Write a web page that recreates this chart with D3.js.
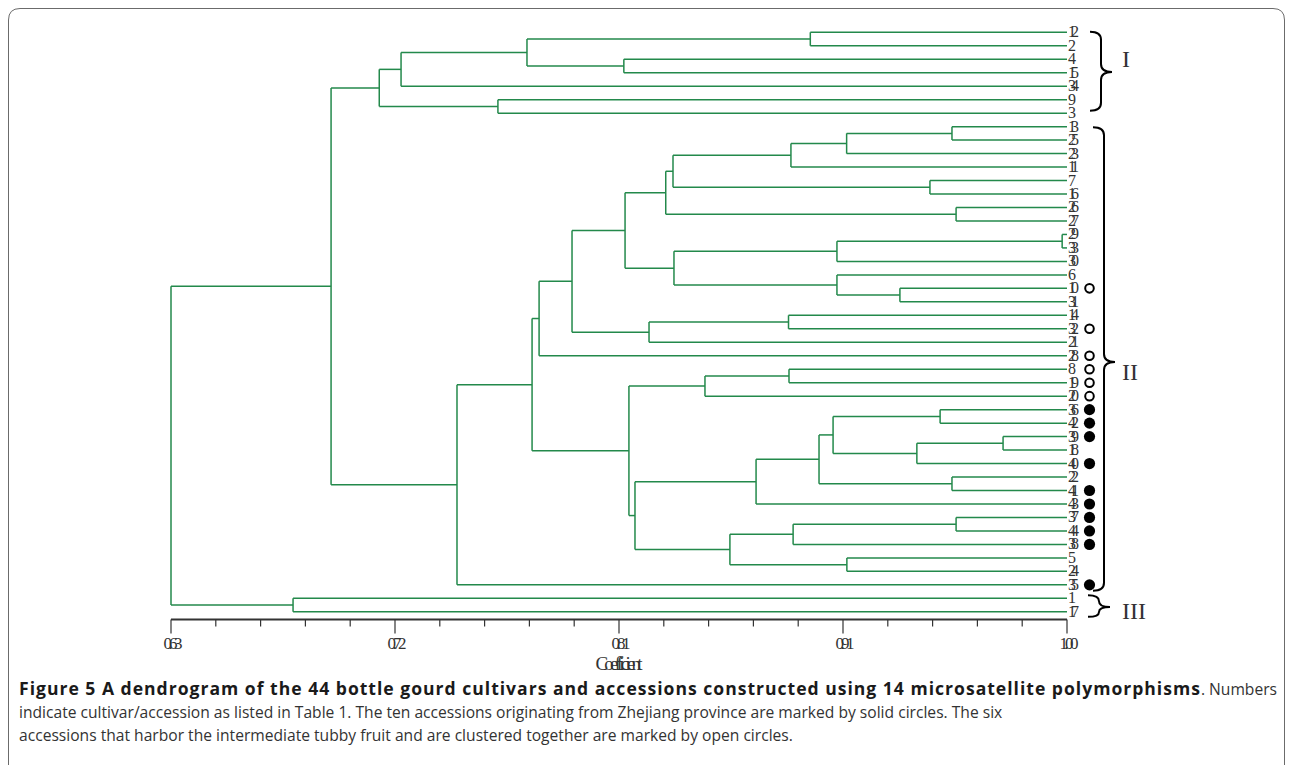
<!DOCTYPE html>
<html><head><meta charset="utf-8">
<script src="https://cdn.jsdelivr.net/npm/d3@7/dist/d3.min.js"></script>
<style>
html,body{margin:0;padding:0;background:#fff;}
svg{display:block;}
</style></head>
<body>
<svg id="chart" width="1293" height="765"></svg>
<script>
// ---- data ----
const leaves = ["12","2","4","15","34","9","3","13","25","23","11","7","16","26","27","29","33","30","6","10","31","14","32","21","28","8","19","20","36","42","39","18","40","22","41","43","37","44","38","5","24","35","1","17"];
// merges: [childA, childB, coefficient]; "nK" refers to merge K
const merges = [
  ["12","2",0.894], ["4","15",0.817], ["n0","n1",0.777], ["n2","34",0.725], ["9","3",0.765],
  ["n3","n4",0.716], ["13","25",0.9525], ["n6","23",0.909], ["n7","11",0.886], ["7","16",0.9434],
  ["n8","n9",0.8373], ["26","27",0.9542], ["n10","n11",0.8343], ["29","33",0.998], ["n13","30",0.905],
  ["10","31",0.931], ["6","n15",0.905], ["n14","n16",0.8377], ["n12","n17",0.8175], ["14","32",0.885],
  ["n19","21",0.8274], ["n18","n20",0.7956], ["n21","28",0.782], ["8","19",0.8852], ["n23","20",0.8505],
  ["36","42",0.9476], ["39","18",0.9736], ["n26","40",0.938], ["n25","n27",0.9034], ["22","41",0.9525],
  ["n28","n29",0.8976], ["n30","43",0.8716], ["37","44",0.9542], ["n32","38",0.8869], ["5","24",0.9091],
  ["n33","n34",0.8608], ["n31","n35",0.8216], ["n24","n36",0.8191], ["n22","n37",0.7791], ["n38","35",0.7481],
  ["n5","n39",0.6961], ["1","17",0.6804], ["n40","n41",0.63]
];
const openMarked = ["10","32","28","8","19","20"];
const solidMarked = ["36","42","39","40","41","43","37","44","38","35"];
const tickValues = [0.63, 0.7225, 0.815, 0.9075, 1.00];
const tickLabels = ["0.63","0.72","0.81","0.91","1.00"];
const clusters = [
  {name:"I", first:"12", last:"3"},
  {name:"II", first:"13", last:"35"},
  {name:"III", first:"1", last:"17"}
];
const axisTitle = "Coefficient";
const captionBold = "Figure 5 A dendrogram of the 44 bottle gourd cultivars and accessions constructed using 14 microsatellite polymorphisms";
const captionLines = [
  ". Numbers",
  "indicate cultivar/accession as listed in Table 1. The ten accessions originating from Zhejiang province are marked by solid circles. The six",
  "accessions that harbor the intermediate tubby fruit and are clustered together are marked by open circles."
];

// ---- drawing ----
const svg = d3.select("#chart");
const green = "#23894b";

// frame
svg.append("path")
  .attr("d", "M8.5,780 L8.5,20 Q8.5,8.5 20,8.5 L1273,8.5 Q1284.5,8.5 1284.5,20 L1284.5,780")
  .attr("fill","none").attr("stroke","#6b6b6b").attr("stroke-width",1);

const x = d3.scaleLinear().domain([0.63, 1.00]).range([171, 1067]);
const y = d3.scalePoint().domain(leaves).range([32.3, 611.8]);

// compute node positions
const nodes = {};
leaves.forEach(l => nodes[l] = {y: y(l), h: 1.00});
merges.forEach((m, i) => {
  const a = nodes[m[0]], b = nodes[m[1]];
  nodes["n"+i] = {y: (a.y + b.y)/2, h: m[2], a, b};
});

const g = svg.append("g");
merges.forEach((m, i) => {
  const n = nodes["n"+i];
  const xh = x(n.h);
  [n.a, n.b].forEach(c => {
    g.append("line").attr("x1", xh).attr("x2", x(c.h)).attr("y1", c.y).attr("y2", c.y)
      .attr("stroke", green).attr("stroke-width", 1.5);
  });
  g.append("line").attr("x1", xh).attr("x2", xh).attr("y1", n.a.y).attr("y2", n.b.y)
    .attr("stroke", green).attr("stroke-width", 1.5);
});

// leaf labels
const serif = "'Liberation Serif','DejaVu Serif',serif";
svg.append("g").selectAll("text").data(leaves).join("text")
  .attr("x", 1068).attr("y", d => y(d) + 5)
  .attr("font-family", serif).attr("font-size", 16).attr("fill", "#333")
  .attr("textLength", d => d.length > 1 ? 11 : null)
  .attr("lengthAdjust", "spacing")
  .text(d => d);

// markers
svg.append("g").selectAll("circle").data(openMarked).join("circle")
  .attr("cx", 1089.5).attr("cy", d => y(d)).attr("r", 4.3)
  .attr("fill", "#fff").attr("stroke", "#000").attr("stroke-width", 2);
svg.append("g").selectAll("circle").data(solidMarked).join("circle")
  .attr("cx", 1089.5).attr("cy", d => y(d)).attr("r", 5.6)
  .attr("fill", "#000");

// axis
const minor = d3.range(0, 21).map(k => 0.63 + k * 0.0185);
const axisG = svg.append("g").attr("transform", "translate(0,619.5)");
axisG.append("line").attr("x1", x(0.63)).attr("x2", x(1.00)).attr("stroke", "#333").attr("stroke-width", 2);
axisG.selectAll("line.minor").data(minor).join("line").attr("class","minor")
  .attr("x1", d => x(d)).attr("x2", d => x(d)).attr("y1", 0)
  .attr("y2", (d, i) => i % 5 === 0 ? 14 : 7)
  .attr("stroke", "#333").attr("stroke-width", 1.2);
axisG.selectAll("text").data(tickValues).join("text")
  .attr("x", d => x(d) + 2).attr("y", 29)
  .attr("text-anchor", "middle").attr("font-family", serif).attr("font-size", 17).attr("fill", "#333")
  .attr("textLength", 19).attr("lengthAdjust", "spacing")
  .text((d, i) => tickLabels[i]);
svg.append("text").attr("x", x((0.63+1.00)/2)).attr("y", 670)
  .attr("text-anchor", "middle").attr("font-family", serif).attr("font-size", 19).attr("fill", "#333")
  .attr("textLength", 47).attr("lengthAdjust", "spacing")
  .text(axisTitle);

// braces
function brace(x0, y0, y1, ym, w) {
  const xs = x0 + w, tip = xs + w;
  const r = 8;
  return `M${x0},${y0} Q${xs},${y0} ${xs},${y0 + Math.min(r,(ym-y0)/2)} L${xs},${ym - Math.min(r,(ym-y0)/2)} Q${xs},${ym} ${tip},${ym}` +
         ` Q${xs},${ym} ${xs},${ym + Math.min(r,(y1-ym)/2)} L${xs},${y1 - Math.min(r,(y1-ym)/2)} Q${xs},${y1} ${x0},${y1}`;
}
const braceGeo = {
  "I":  {x0:1090, w:11, top:-0.5, bot:-2.5, mid:72, lx:1122, ly:67},
  "II": {x0:1093, w:11, top:0.5, bot:6, mid:362, lx:1122, ly:380},
  "III":{x0:1088, w:11, top:-3, bot:5, mid:607, lx:1122, ly:619}
};
clusters.forEach(c => {
  const b = braceGeo[c.name];
  const y0 = y(c.first) + b.top, y1 = y(c.last) + b.bot;
  svg.append("path").attr("d", brace(b.x0, y0, y1, b.mid, b.w))
    .attr("fill", "none").attr("stroke", "#000").attr("stroke-width", 2);
  svg.append("text").attr("x", b.lx).attr("y", b.ly)
    .attr("font-family", serif).attr("font-size", 24).attr("fill", "#333").text(c.name);
});

// caption
const sans = "'Open Sans','Noto Sans',sans-serif";
// size the caption so line 2 matches its width in the figure
const probe = svg.append("text").attr("font-family", sans).attr("font-size", 15).text(captionLines[1]);
const w15 = probe.node().getComputedTextLength();
probe.remove();
const capSize = 15 * 984 / w15;

svg.append("text").attr("x", 19).attr("y", 718)
  .attr("font-family", sans).attr("font-size", capSize).attr("fill", "#333")
  .text(captionLines[1]);
svg.append("text").attr("x", 19).attr("y", 741)
  .attr("font-family", sans).attr("font-size", capSize).attr("fill", "#333")
  .text(captionLines[2]);

// line 1: bold title, then ". Numbers" ending at the right margin (x≈1277)
const tail = svg.append("text").attr("x", 1277).attr("y", 695).attr("text-anchor", "end")
  .attr("font-family", sans).attr("font-size", capSize).attr("fill", "#333")
  .text(captionLines[0]);
const tailW = tail.node().getComputedTextLength();
const b1 = svg.append("text").attr("x", 19).attr("y", 695)
  .attr("font-family", sans).attr("font-size", capSize).attr("font-weight", "bold").attr("fill", "#1a1a1a")
  .text(captionBold);
const target = 1258 - tailW;
const wb0 = b1.node().getComputedTextLength();
const boldSize = capSize * (1 + (target / wb0 - 1) * 0.5);
b1.attr("font-size", boldSize);
const wb1 = b1.node().getComputedTextLength();
b1.attr("letter-spacing", (target - wb1) / captionBold.length);
</script>
</body></html>
